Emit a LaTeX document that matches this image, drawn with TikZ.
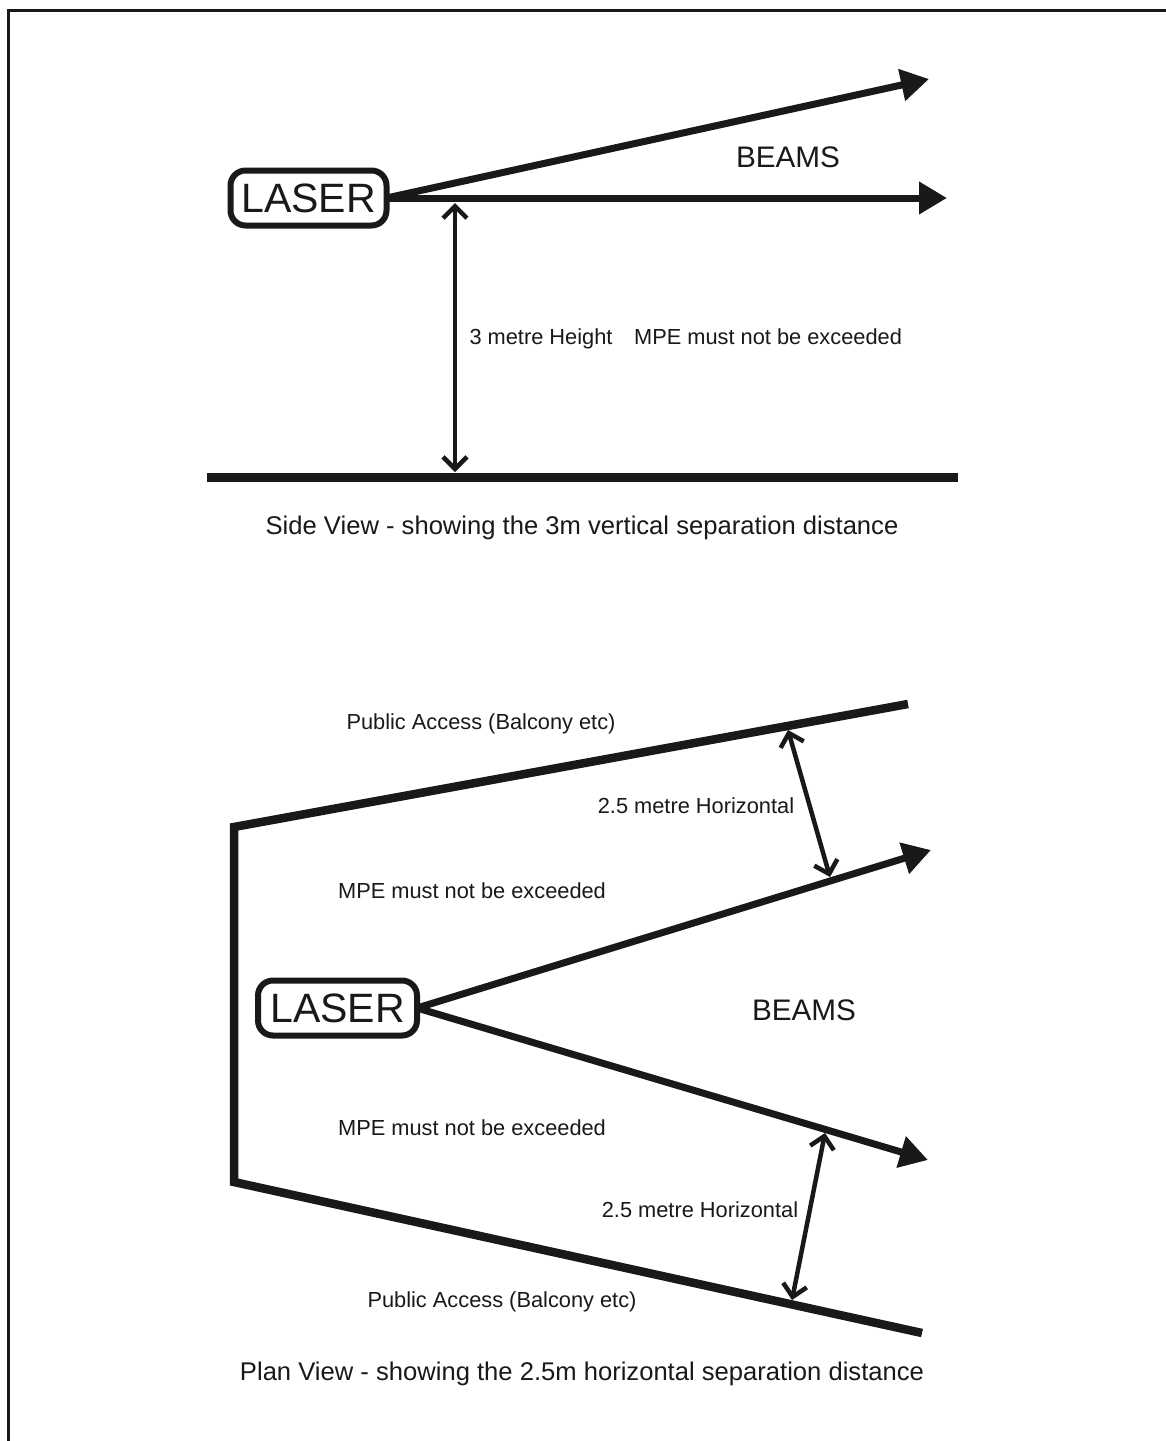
\documentclass[tikz,border=0pt]{standalone}
\usepackage{fontspec}
\setmainfont{Liberation Sans}
\usetikzlibrary{arrows.meta}
\definecolor{ink}{HTML}{1A1818}
\begin{document}
\begin{tikzpicture}[x=1pt,y=-1pt,
  every node/.style={text=ink, inner sep=0pt, outer sep=0pt},
  laserbox/.style={draw=ink, line width=6pt, rounded corners=15pt, minimum height=55pt, font=\fontsize{41}{41}\selectfont},
  beam/.style={draw=ink, line width=7pt, -{Triangle[length=28pt,width=31pt]}},
  gap/.style={draw=ink, line width=4.5pt, {Straight Barb[length=12pt,width=24pt]}-{Straight Barb[length=12pt,width=24pt]}},
  wall/.style={draw=ink, line width=8.5pt, line join=miter},
  big/.style={anchor=base, font=\fontsize{29.7}{30}\selectfont},
  lbl/.style={anchor=base, font=\fontsize{21.8}{22}\selectfont},
  captxt/.style={anchor=base, font=\fontsize{25.6}{26}\selectfont},
]
\useasboundingbox (0,0) rectangle (1166,1441);
\fill[white] (0,0) rectangle (1166,1441);
% frame
\draw[ink, line width=3pt] (8,1441) -- (8,10) -- (1166,10);

% ---------- Side view ----------
\node[laserbox, minimum width=156pt] (lsr1) at (308.5,198) {LASER};
\coordinate (t1) at (929,79);
\coordinate (t2) at (947,198);
\draw[beam] (lsr1.east) -- (t1);
\draw[beam] (lsr1.east) -- (t2);
\coordinate (g1) at (207,477);
\coordinate (g2) at (958,477);
\draw[ink, line width=9pt] (g1) -- (g2);
\coordinate (h1) at (455,203);
\coordinate (h2) at (455,472);
\draw[gap] (h1) -- (h2);
\node[big] (beams1) at (788,167) {BEAMS};
\node[lbl] (ht) at (541,344) {3 metre Height};
\node[lbl] (mpe1) at (768,344) {MPE must not be exceeded};
\node[captxt] (cap1) at (582,534) {Side View - showing the 3m vertical separation distance};

% ---------- Plan view ----------
\coordinate (w1) at (908,704);
\coordinate (w2) at (234,827);
\coordinate (w3) at (234,1182);
\coordinate (w4) at (922,1333);
\draw[wall] (w1) -- (w2) -- (w3) -- (w4);
\node[laserbox, minimum width=159pt] (lsr2) at (337.5,1008) {LASER};
\coordinate (t3) at (931,850);
\coordinate (t4) at (928,1160);
\draw[beam] (lsr2.east) -- (t3);
\draw[beam] (lsr2.east) -- (t4);
\coordinate (a1) at (788,730);
\coordinate (a2) at (830,877);
\draw[gap] (a1) -- (a2);
\coordinate (b1) at (825,1133);
\coordinate (b2) at (792,1300);
\draw[gap] (b1) -- (b2);
\node[lbl] (pa1) at (481,729) {Public Access (Balcony etc)};
\node[lbl] (hz1) at (696,813) {2.5 metre Horizontal};
\node[lbl] (mpe2) at (472,898) {MPE must not be exceeded};
\node[big] (beams2) at (804,1020) {BEAMS};
\node[lbl] (mpe3) at (472,1135) {MPE must not be exceeded};
\node[lbl] (hz2) at (700,1217) {2.5 metre Horizontal};
\node[lbl] (pa2) at (502,1307) {Public Access (Balcony etc)};
\node[captxt] (cap2) at (582,1380) {Plan View - showing the 2.5m horizontal separation distance};
\end{tikzpicture}
\end{document}
